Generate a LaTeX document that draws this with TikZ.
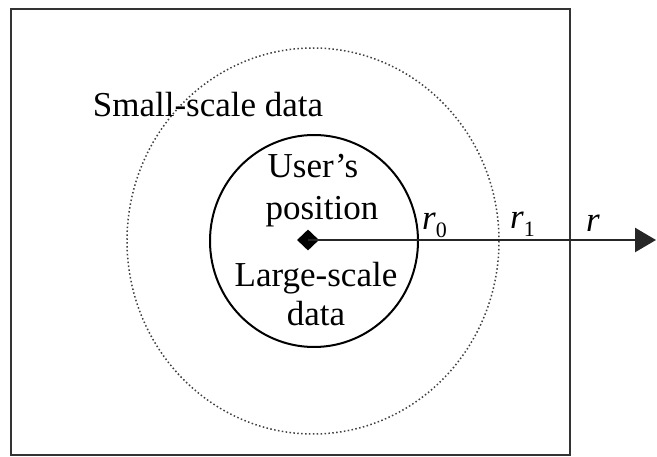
\documentclass[tikz,border=0pt]{standalone}
\usepackage{fontspec}
\setmainfont{Liberation Serif}
\usetikzlibrary{shapes.geometric,arrows.meta}
\newcommand{\rlab}[1]{{\itshape r}\raisebox{-0.22em}{\fontsize{22}{22}\selectfont #1}}
\begin{document}
\begin{tikzpicture}[x=1pt,y=-1pt,
  txt/.style={font=\fontsize{35}{40}\selectfont, inner sep=0pt, anchor=base},
  frame/.style={draw=black!80, line width=2.6pt},
  outerc/.style={draw=black!75, line width=1.5pt, dash pattern=on 1.5pt off 2.4pt},
  innerc/.style={draw=black, line width=2pt},
  axis/.style={draw=black!85, line width=2.6pt, -{Triangle[length=21pt,width=24pt]}},
  userpt/.style={diamond, fill=black, minimum width=22pt, minimum height=21pt, inner sep=0pt}]
\useasboundingbox (0,0) rectangle (657,457);
\fill[white] (0,0) rectangle (657,457);
\draw[frame] (11,9) rectangle (570,455);
\draw[outerc] (313,241) ellipse [x radius=186, y radius=193];
\draw[innerc] (314,241) ellipse [x radius=104, y radius=106];
\node[userpt] (u) at (308,240) {};
\coordinate (rend) at (656,240);
\draw[axis] (u.center) -- (rend);
\node[txt] (small) at (208,117) {Small-scale data};
\node[txt] (user) at (313,178) {User’s};
\node[txt] (posn) at (322,220) {position};
\node[txt] (large) at (316,287) {Large-scale};
\node[txt] (ldata) at (316,326) {data};
\node[txt, anchor=base west] (r0) at (422,230) {\rlab{0}};
\node[txt, anchor=base west] (r1) at (510,229) {\rlab{1}};
\node[txt, anchor=base west] (r) at (586,232) {\itshape r};
\end{tikzpicture}
\end{document}
